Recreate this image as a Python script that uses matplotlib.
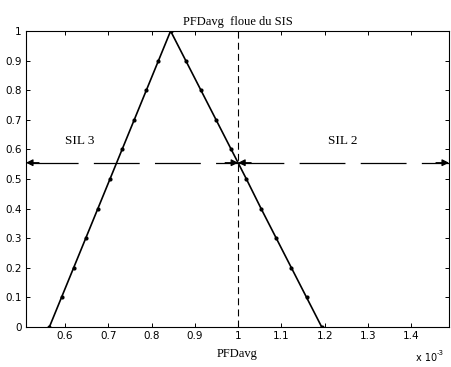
import matplotlib.pyplot as plt

# fuzzy PFDavg (x 1e-3) versus membership degree
mu = [0, 0.1, 0.2, 0.3, 0.4, 0.5, 0.6, 0.7, 0.8, 0.9, 1.0,
      0.9, 0.8, 0.7, 0.6, 0.5, 0.4, 0.3, 0.2, 0.1, 0]
pfd = [0.564, 0.592, 0.620, 0.648, 0.676, 0.704, 0.732, 0.760, 0.788, 0.816, 0.844,
       0.879, 0.914, 0.949, 0.984, 1.019, 1.053, 1.088, 1.123, 1.158, 1.193]

sil_limit = 1.0
arrow_y = 0.555
xticks = [0.6, 0.7, 0.8, 0.9, 1.0, 1.1, 1.2, 1.3, 1.4]
xlabels = ["0.6", "0.7", "0.8", "0.9", "1", "1.1", "1.2", "1.3", "1.4"]
yticks = [0, 0.1, 0.2, 0.3, 0.4, 0.5, 0.6, 0.7, 0.8, 0.9, 1]
ylabels = ["0", "0.1", "0.2", "0.3", "0.4", "0.5", "0.6", "0.7", "0.8", "0.9", "1"]
xmin, xmax = 0.51, 1.487

plt.rcParams['lines.scale_dashes'] = False
fig = plt.figure(figsize=(4.51, 3.67), dpi=100)
ax = fig.add_axes([26 / 451, 40 / 367, 423 / 451, 296 / 367])

ax.plot(pfd, mu, color="black", lw=1.2, marker="o", ms=2.0)
ax.plot([sil_limit, sil_limit], [0, 1], color="black", lw=0.8, dashes=(5, 3))

# SIL zones
ax.plot([xmin, sil_limit], [arrow_y, arrow_y], color="black", lw=0.9, linestyle=(39.5, (33, 11)))
ax.plot([sil_limit, xmax], [arrow_y, arrow_y], color="black", lw=0.9, dashes=(33, 11))
head = dict(arrowstyle="-|>", color="black", lw=0.9, mutation_scale=10, shrinkA=0, shrinkB=0)
for x0, x1 in [(xmin + 0.03, xmin), (sil_limit - 0.03, sil_limit),
               (sil_limit + 0.03, sil_limit), (xmax - 0.03, xmax)]:
    ax.annotate("", xy=(x1, arrow_y), xytext=(x0, arrow_y), arrowprops=head)

ax.text(0.635, 0.63, "SIL 3", family="Liberation Serif", fontsize=9.5, ha="center", va="center")
ax.text(1.242, 0.63, "SIL 2", family="Liberation Serif", fontsize=9.5, ha="center", va="center")

ax.set_xlim(xmin, xmax)
ax.set_ylim(0, 1)
ax.set_xticks(xticks)
ax.set_xticklabels(xlabels)
ax.set_yticks(yticks)
ax.set_yticklabels(ylabels)
ax.tick_params(direction="in", top=True, right=True, length=3, width=0.7, labelsize=7.5, pad=3)
for lab in ax.get_xticklabels() + ax.get_yticklabels():
    lab.set_family("Liberation Sans Narrow")
for s in ax.spines.values():
    s.set_linewidth(0.8)

ax.set_title("PFDavg  floue du SIS", family="Liberation Serif", fontsize=9, pad=4)
ax.set_xlabel("PFDavg", family="Liberation Serif", fontsize=9, labelpad=5)
fig.text(427 / 451, 1 - 358 / 367, "x 10", family="Liberation Sans Narrow", fontsize=7,
         ha="center", va="center")
fig.text(437 / 451, 1 - 353 / 367, "-3", family="Liberation Sans Narrow", fontsize=5,
         ha="left", va="center")

fig.savefig("out.png", dpi=100)
